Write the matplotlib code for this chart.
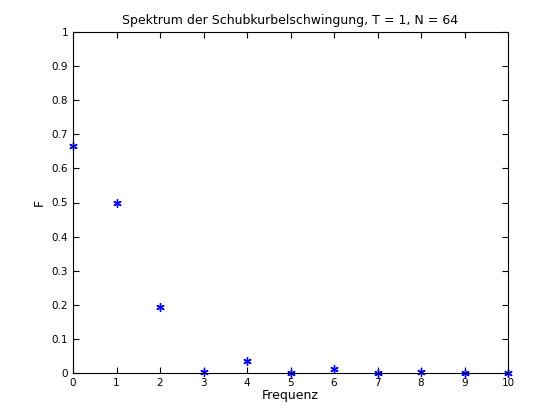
import matplotlib
matplotlib.use("Agg")
import matplotlib.pyplot as plt

freq = [0, 1, 2, 3, 4, 5, 6, 7, 8, 9, 10]
F = [0.665, 0.5, 0.193, 0.003, 0.035, 0.001, 0.011, 0.001, 0.003, 0.001, 0.001]

fig = plt.figure(figsize=(5.6, 4.2), dpi=100)
ax = fig.add_axes([73/560, 1-373/420, (508-73)/560, (373-32)/420])
ax.plot(freq, F, linestyle='none', marker=(6, 2, 0), color='blue', markersize=6,
        markeredgewidth=1, clip_on=False)
ax.set_xlim(0, 10)
ax.set_ylim(0, 1)
ax.set_xticks(range(11))
ax.set_yticks([i/10 for i in range(11)])
ax.set_yticklabels(['0'] + [f'{i/10:g}' for i in range(1, 10)] + ['1'])
ax.tick_params(direction='in', top=True, right=True, labelsize=7.5, length=4)
ax.set_title('Spektrum der Schubkurbelschwingung, T = 1, N = 64', fontsize=9)
ax.set_xlabel('Frequenz', fontsize=9, labelpad=1)
ax.set_ylabel('F', fontsize=9)
fig.savefig('out.png')
